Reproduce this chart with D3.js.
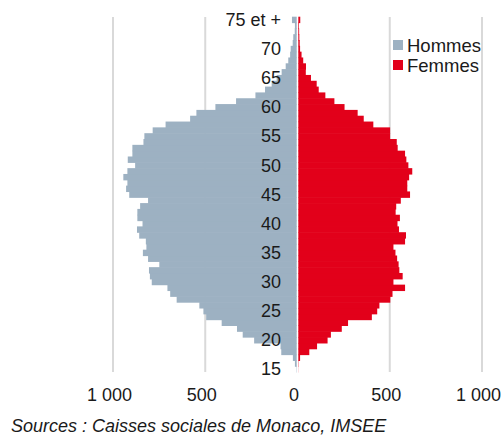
<!DOCTYPE html>
<html>
<head>
<meta charset="utf-8">
<script src="https://d3js.org/d3.v7.min.js"></script>
<style>
   body { margin: 0; background: #ffffff; }
   svg { display: block; font-family: "Liberation Sans", Arial, sans-serif; }
</style>
</head>
<body>
<svg id="svg"></svg>
<script>
// ages 15 .. 74, then "75 et +"
let ages = d3.range(15, 76);
let ageTicks = [15, 20, 25, 30, 35, 40, 45, 50, 55, 60, 65, 70, 75];
let ageTickLabels = ['15', '20', '25', '30', '35', '40', '45', '50', '55', '60', '65', '70', '75 et +'];

let hommes = [
   6, 14, 25, 88, 92, 235, 297, 328, 411, 495,        // 15-24
   510, 532, 655, 690, 705, 790, 800, 805, 749, 810,  // 25-34
   838, 819, 822, 858, 870, 840, 868, 868, 853, 810,  // 35-44
   912, 929, 922, 944, 922, 880, 920, 895, 895, 835,  // 45-54
   830, 785, 715, 582, 548, 445, 333, 228, 176, 140,  // 55-64
   113, 86, 64, 50, 40, 37, 26, 23, 15, 14,           // 65-74
   30                                                 // 75 et +
];
let femmes = [
   5, 6, 14, 64, 106, 163, 181, 240, 274, 403,
   432, 444, 503, 515, 583, 520, 570, 552, 548, 540,
   531, 520, 583, 588, 550, 542, 555, 532, 535, 560,
   610, 595, 595, 605, 622, 601, 590, 583, 543, 538,
   502, 502, 411, 359, 326, 255, 200, 151, 115, 104,
   73, 45, 46, 31, 22, 14, 12, 10, 9, 8,
   15
];
let xTicks = [-1000, -500, 0, 500, 1000];
let seriesNames = ['Hommes', 'Femmes'];
let seriesColors = ['#9db1c2', '#e2001a'];
let source = 'Sources : Caisses sociales de Monaco, IMSEE';

let width = 503, height = 445;
let svg = d3.select('#svg')
   .attr('width', width)
   .attr('height', height);

let x = d3.scaleLinear().domain([-1000, 1000]).range([113, 482]);
let y = d3.scaleBand().domain(ages.slice().reverse()).range([16.7, 372]).padding(0);
let gap = 0.8;

// vertical grid lines
svg.append('g')
   .selectAll('line')
   .data(xTicks.filter(d => d != 0))
   .join('line')
   .attr('x1', d => x(d))
   .attr('x2', d => x(d))
   .attr('y1', 17)
   .attr('y2', 372)
   .style('stroke', '#d9d9d9')
   .style('stroke-width', 2);

// bars (a little overlap so no seams show between rows)
svg.append('g')
   .selectAll('rect')
   .data(ages)
   .join('rect')
   .attr('x', (d, i) => x(-hommes[i]))
   .attr('y', d => y(d))
   .attr('width', (d, i) => Math.max(0, x(0) - gap - x(-hommes[i])))
   .attr('height', y.bandwidth() + 0.6)
   .style('fill', seriesColors[0]);

svg.append('g')
   .selectAll('rect')
   .data(ages)
   .join('rect')
   .attr('x', x(0) + gap)
   .attr('y', d => y(d))
   .attr('width', (d, i) => Math.max(0, x(femmes[i]) - x(0) - gap))
   .attr('height', y.bandwidth() + 0.6)
   .style('fill', seriesColors[1]);

// age labels over the bars
svg.append('g')
   .selectAll('text')
   .data(ageTicks)
   .join('text')
   .attr('x', 281)
   .attr('y', d => y(d) + y.bandwidth() / 2)
   .attr('dy', '0.35em')
   .attr('text-anchor', 'end')
   .style('font-size', '18px')
   .style('fill', '#1a1a1a')
   .text((d, i) => ageTickLabels[i]);

// x axis
let fmt = d3.format(',');
let xAxis = d3.axisBottom(x)
   .tickValues(xTicks)
   .tickSize(0)
   .tickPadding(0)
   .tickFormat(d => fmt(Math.abs(d)).replace(',', ' '));

let axis = svg.append('g')
   .attr('transform', 'translate(-4, 388)')
   .call(xAxis);
axis.select('.domain').remove();
axis.selectAll('text')
   .style('font-family', '"Liberation Sans", Arial, sans-serif')
   .style('font-size', '18px')
   .style('fill', '#1a1a1a');

// legend
let legend = svg.append('g')
   .selectAll('g')
   .data(seriesNames)
   .join('g')
   .attr('transform', (d, i) => 'translate(393,' + (40 + i * 20) + ')');
legend.append('rect')
   .attr('width', 10)
   .attr('height', 10)
   .style('fill', (d, i) => seriesColors[i]);
legend.append('text')
   .attr('x', 14)
   .attr('y', 11.5)
   .style('font-size', '18.5px')
   .style('fill', '#1a1a1a')
   .text(d => d);

// source
svg.append('text')
   .attr('x', 11)
   .attr('y', 432)
   .style('font-size', '18px')
   .style('font-style', 'italic')
   .style('fill', '#1a1a1a')
   .text(source);
</script>
</body>
</html>
